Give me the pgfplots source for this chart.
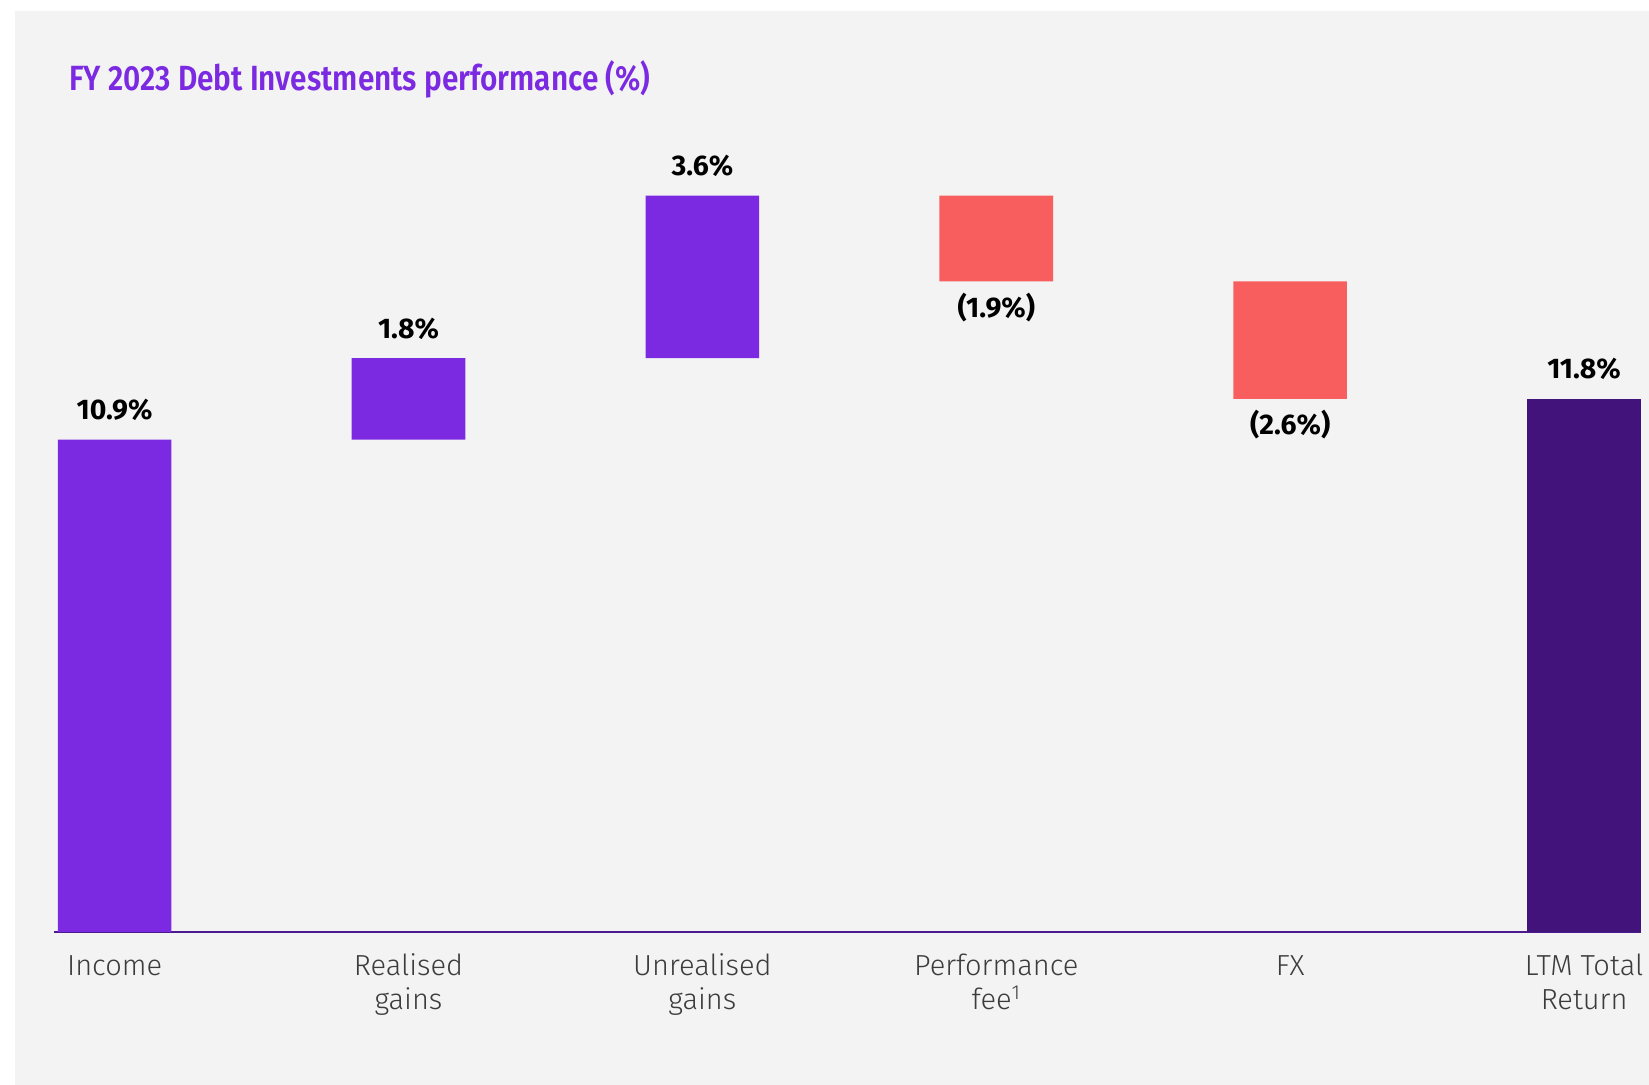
\documentclass[border=0pt]{standalone}
\usepackage{pgfplots}
\pgfplotsset{compat=1.18}
\usepackage{fontspec}
\setmainfont{Fira Sans}
\newfontfamily\lightfont{Fira Sans Light}
\newfontfamily\semifont{Fira Sans SemiBold}[FakeStretch=0.85]
\definecolor{barpurple}{HTML}{7B2AE2}
\definecolor{barred}{HTML}{F95E5E}
\definecolor{bardark}{HTML}{42137A}
\definecolor{baseline}{HTML}{4B1A8C}
\definecolor{panel}{HTML}{F3F3F3}
\definecolor{catgrey}{HTML}{3C3C3C}
\tikzset{val/.style={anchor=base,inner sep=0pt,font=\bfseries\fontsize{14.2}{16}\selectfont,text=black}}
\begin{document}
\begin{tikzpicture}[x=1pt,y=1pt]
\fill[white] (0,0) rectangle (824.5,542.5);
\fill[panel] (7.5,0) rectangle (824.5,537);
\useasboundingbox (0,0) rectangle (824.5,542.5);
\node[anchor=base west,inner sep=0,text=barpurple,font=\semifont\fontsize{17.5}{20}\selectfont]
  at (34.5,497) {FY 2023 Debt Investments performance (\%)};
\begin{axis}[
  at={(27pt,76.5pt)},anchor=south west,
  scale only axis,width=793.5pt,height=384pt,
  xmin=-0.2062,xmax=5.1937,ymin=0,ymax=17,
  axis x line=bottom,axis y line=none,
  x axis line style={-,draw=baseline,line width=1.2pt},
  ybar stacked,bar width=56.8pt,
  xtick={0,1,2,3,4,5},
  % every label has two lines so that the base anchor (last line) is the same
  xticklabels={{Income\\\phantom{g}},{Realised\\gains},{Unrealised\\gains},{Performance\\fee\textsuperscript{1}},{FX\\\phantom{g}},{LTM Total\\Return}},
  major tick length=0pt,ytick=\empty,
  xticklabel style={align=center,anchor=base,yshift=-39pt,inner sep=0pt,
    text=catgrey,font=\lightfont\fontsize{14.5}{17}\selectfont},
  clip=false,
]
\addplot[fill=none,draw=none] coordinates {(0,0) (1,10.9) (2,12.7) (3,14.4) (4,11.8) (5,0)};
\addplot[fill=barpurple,draw=none] coordinates {(0,10.9) (1,1.8) (2,3.6) (3,0) (4,0) (5,0)};
\addplot[fill=barred,draw=none] coordinates {(0,0) (1,0) (2,0) (3,1.9) (4,2.6) (5,0)};
\addplot[fill=bardark,draw=none] coordinates {(0,0) (1,0) (2,0) (3,0) (4,0) (5,11.8)};
\node[val,yshift=10pt] at (axis cs:0,10.9) {10.9\%};
\node[val,yshift=10pt] at (axis cs:1,12.7) {1.8\%};
\node[val,yshift=10pt] at (axis cs:2,16.3) {3.6\%};
\node[val,yshift=-18pt] at (axis cs:3,14.4) {(1.9\%)};
\node[val,yshift=-18pt] at (axis cs:4,11.8) {(2.6\%)};
\node[val,yshift=10pt] at (axis cs:5,11.8) {11.8\%};
\end{axis}
\end{tikzpicture}
\end{document}
